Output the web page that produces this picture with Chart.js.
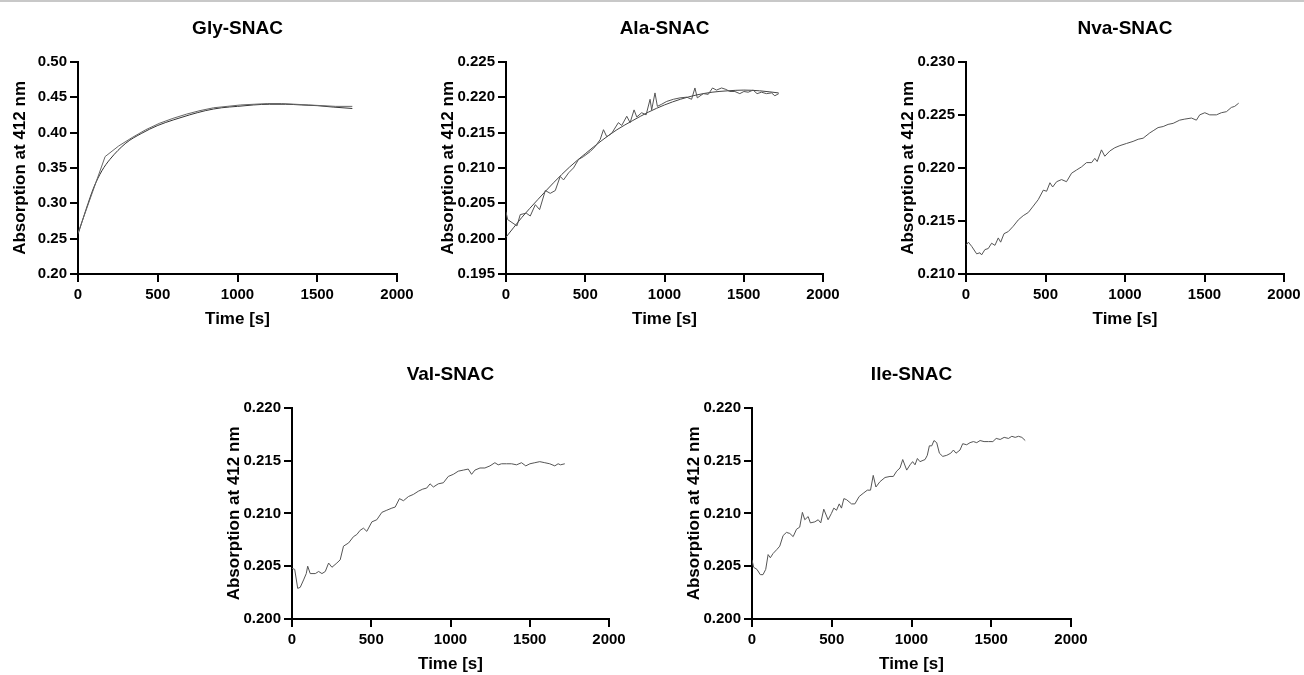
<!DOCTYPE html>
<html>
<head>
<meta charset="utf-8">
<script src="https://cdn.jsdelivr.net/npm/chart.js@4"></script>
<style>
  html, body { margin: 0; padding: 0; background: #fff; }
  body { width: 1304px; height: 675px; position: relative; overflow: hidden; }
  #topbar { position: absolute; left: 0; top: 0; width: 1304px; height: 2px; background: #c8c8c8; }
  canvas { position: absolute; }
</style>
</head>
<body>
<div id="topbar"></div>
<canvas id="gly" width="429" height="334" style="left:-2px;top:0px"></canvas>
<canvas id="ala" width="427" height="334" style="left:426px;top:0px"></canvas>
<canvas id="nva" width="428" height="334" style="left:886px;top:0px"></canvas>
<canvas id="val" width="427" height="333" style="left:212px;top:346px"></canvas>
<canvas id="ile" width="429" height="333" style="left:672px;top:346px"></canvas>
<script>
// x ticks shared by all panels
var timeTicks = [0, 500, 1000, 1500, 2000];

// Gly-SNAC
var glyTime = [0, 170, 255, 340, 425, 510, 595, 680, 765, 850, 935, 1020, 1105, 1190, 1275, 1360, 1445, 1530, 1615, 1720];
var glyData = [0.258, 0.366, 0.381, 0.393, 0.404, 0.413, 0.420, 0.426, 0.431, 0.435, 0.437, 0.439, 0.440, 0.441, 0.441, 0.440, 0.439, 0.438, 0.437, 0.437];
var glyFitTime = [0, 50, 100, 150, 200, 300, 400, 500, 600, 700, 800, 900, 1000, 1100, 1200, 1300, 1400, 1500, 1600, 1720];
var glyFit = [0.256, 0.291, 0.323, 0.346, 0.362, 0.385, 0.399, 0.410, 0.418, 0.425, 0.431, 0.435, 0.437, 0.439, 0.440, 0.440, 0.439, 0.438, 0.436, 0.434];

// Ala-SNAC
var alaTime = [0, 10, 69, 90, 128, 153, 185, 212, 248, 279, 311, 342, 363, 395, 426, 458, 489, 531, 562, 594, 615, 636, 667, 709, 730, 762, 783, 808, 825, 856, 884, 909, 919, 940, 955, 982, 1014, 1056, 1098, 1140, 1171, 1192, 1207, 1245, 1276, 1303, 1328, 1360, 1387, 1412, 1444, 1475, 1501, 1528, 1559, 1584, 1612, 1643, 1675, 1696, 1721];
var alaData = [0.2038, 0.2027, 0.2018, 0.2034, 0.2036, 0.2032, 0.2048, 0.2041, 0.2068, 0.2064, 0.2068, 0.2088, 0.2083, 0.2093, 0.2100, 0.2112, 0.2116, 0.2123, 0.2130, 0.2140, 0.2154, 0.2144, 0.2149, 0.2164, 0.2160, 0.2173, 0.2164, 0.2182, 0.2172, 0.2178, 0.2175, 0.2197, 0.2182, 0.2206, 0.2187, 0.2190, 0.2194, 0.2197, 0.2199, 0.2200, 0.2197, 0.2213, 0.2199, 0.2205, 0.2204, 0.2213, 0.2210, 0.2213, 0.2211, 0.2208, 0.2208, 0.2205, 0.2208, 0.2207, 0.2210, 0.2205, 0.2207, 0.2205, 0.2206, 0.2202, 0.2205];
var alaFitTime = [0, 100, 200, 300, 400, 500, 600, 700, 800, 900, 1000, 1100, 1200, 1300, 1400, 1500, 1600, 1720];
var alaFit = [0.2002, 0.2030, 0.2055, 0.2079, 0.2101, 0.2120, 0.2138, 0.2154, 0.2167, 0.2179, 0.2189, 0.2197, 0.2203, 0.2207, 0.2209, 0.2210, 0.2209, 0.2206];

// Nva-SNAC
var nvaTime = [0, 15, 36, 67, 88, 98, 119, 140, 161, 182, 203, 218, 239, 266, 297, 329, 360, 392, 423, 454, 486, 507, 528, 545, 570, 601, 632, 664, 695, 727, 758, 790, 810, 825, 852, 873, 905, 936, 968, 1009, 1051, 1083, 1114, 1156, 1177, 1208, 1240, 1271, 1303, 1344, 1376, 1418, 1449, 1470, 1502, 1533, 1575, 1606, 1638, 1669, 1690, 1715];
var nvaData = [0.2127, 0.2130, 0.2126, 0.2119, 0.2120, 0.2118, 0.2123, 0.2124, 0.2129, 0.2127, 0.2134, 0.2130, 0.2138, 0.2140, 0.2145, 0.2151, 0.2155, 0.2158, 0.2164, 0.2170, 0.2179, 0.2178, 0.2186, 0.2182, 0.2187, 0.2189, 0.2187, 0.2195, 0.2198, 0.2201, 0.2205, 0.2205, 0.2209, 0.2206, 0.2217, 0.2211, 0.2216, 0.2219, 0.2221, 0.2223, 0.2225, 0.2227, 0.2228, 0.2233, 0.2235, 0.2238, 0.2239, 0.2241, 0.2242, 0.2245, 0.2246, 0.2247, 0.2245, 0.2250, 0.2252, 0.2250, 0.2250, 0.2252, 0.2253, 0.2257, 0.2258, 0.2261];

// Val-SNAC
var valTime = [0, 17, 36, 52, 73, 90, 99, 115, 147, 168, 189, 210, 231, 252, 283, 304, 325, 357, 388, 409, 430, 451, 472, 504, 535, 567, 598, 630, 651, 678, 703, 735, 766, 797, 825, 850, 871, 892, 923, 955, 986, 1018, 1049, 1081, 1112, 1133, 1154, 1186, 1217, 1249, 1280, 1301, 1322, 1354, 1385, 1417, 1448, 1475, 1501, 1532, 1563, 1595, 1626, 1658, 1679, 1694, 1721];
var valData = [0.2048, 0.2047, 0.2029, 0.2030, 0.2037, 0.2043, 0.2050, 0.2043, 0.2043, 0.2045, 0.2043, 0.2045, 0.2053, 0.2049, 0.2053, 0.2056, 0.2069, 0.2072, 0.2078, 0.2080, 0.2084, 0.2086, 0.2083, 0.2092, 0.2094, 0.2101, 0.2103, 0.2105, 0.2106, 0.2114, 0.2112, 0.2116, 0.2118, 0.2121, 0.2123, 0.2124, 0.2128, 0.2125, 0.2128, 0.2129, 0.2135, 0.2137, 0.2140, 0.2141, 0.2142, 0.2137, 0.2141, 0.2143, 0.2143, 0.2145, 0.2148, 0.2146, 0.2147, 0.2147, 0.2147, 0.2146, 0.2148, 0.2145, 0.2147, 0.2148, 0.2149, 0.2148, 0.2147, 0.2145, 0.2147, 0.2146, 0.2147];

// Ile-SNAC
var ileTime = [0, 10, 31, 52, 69, 86, 101, 115, 132, 157, 174, 195, 216, 237, 258, 279, 299, 316, 331, 352, 366, 394, 415, 431, 450, 477, 498, 513, 530, 547, 561, 576, 593, 624, 645, 672, 697, 723, 743, 760, 777, 802, 834, 865, 886, 907, 928, 945, 970, 991, 1007, 1022, 1037, 1053, 1085, 1099, 1112, 1127, 1141, 1158, 1175, 1196, 1221, 1246, 1263, 1279, 1304, 1321, 1346, 1367, 1388, 1409, 1430, 1455, 1483, 1510, 1531, 1556, 1581, 1608, 1629, 1650, 1671, 1692, 1713];
var ileData = [0.2056, 0.2049, 0.2047, 0.2042, 0.2042, 0.2047, 0.2061, 0.2058, 0.2062, 0.2066, 0.2069, 0.2079, 0.2082, 0.2081, 0.2078, 0.2085, 0.2087, 0.2101, 0.2094, 0.2097, 0.2091, 0.2092, 0.2094, 0.2091, 0.2104, 0.2094, 0.2100, 0.2105, 0.2103, 0.2109, 0.2105, 0.2114, 0.2113, 0.2109, 0.2109, 0.2116, 0.2119, 0.2122, 0.2122, 0.2136, 0.2125, 0.2130, 0.2134, 0.2135, 0.2135, 0.2140, 0.2143, 0.2151, 0.2141, 0.2146, 0.2149, 0.2146, 0.2152, 0.2149, 0.2151, 0.2155, 0.2164, 0.2164, 0.2169, 0.2167, 0.2157, 0.2154, 0.2155, 0.2157, 0.2160, 0.2157, 0.2160, 0.2166, 0.2165, 0.2167, 0.2168, 0.2167, 0.2169, 0.2168, 0.2168, 0.2168, 0.2171, 0.2170, 0.2172, 0.2171, 0.2173, 0.2172, 0.2173, 0.2172, 0.2169];

var fontFamily = "Arial, 'Liberation Sans', Helvetica, sans-serif";

function toPoints(xs, ys) {
    return xs.map(function (x, i) { return { x: x, y: ys[i] }; });
}

function makePanel(id, title, series, yMin, yMax, yStep, decimals) {
    var datasets = series.map(function (s) {
        return {
            data: toPoints(s.x, s.y),
            borderColor: s.color,
            borderWidth: 1,
            pointRadius: 0,
            fill: false,
            tension: s.smooth ? 0.4 : 0,
            cubicInterpolationMode: s.smooth ? 'monotone' : 'default'
        };
    });

    return new Chart(document.getElementById(id), {
        type: 'line',
        data: { datasets: datasets },
        options: {
            responsive: false,
            animation: false,
            layout: { padding: { left: 0, right: 30, top: 0, bottom: 0 } },
            plugins: {
                legend: { display: false },
                tooltip: { enabled: false },
                title: {
                    display: true,
                    text: title,
                    fullSize: false,
                    color: '#000',
                    font: { family: fontFamily, size: 19, weight: 'bold', lineHeight: 1.2 },
                    padding: { top: 17, bottom: 22 }
                }
            },
            scales: {
                x: {
                    type: 'linear',
                    min: 0,
                    max: 2000,
                    afterFit: function (scale) { scale.height = 60; },
                    afterBuildTicks: function (scale) {
                        scale.ticks = timeTicks.map(function (v) { return { value: v }; });
                    },
                    border: { color: '#000', width: 2 },
                    grid: { drawOnChartArea: false, drawTicks: true, tickLength: 8, color: '#000', lineWidth: 2 },
                    ticks: {
                        color: '#000',
                        padding: 4,
                        maxRotation: 0,
                        font: { family: fontFamily, size: 15, weight: 'bold' },
                        callback: function (v) { return String(v); }
                    },
                    title: {
                        display: true,
                        text: 'Time [s]',
                        color: '#000',
                        font: { family: fontFamily, size: 17, weight: 'bold', lineHeight: 1.2 },
                        padding: { top: 0, bottom: 4 }
                    }
                },
                y: {
                    min: yMin,
                    max: yMax,
                    afterFit: function (scale) { scale.width = 80; },
                    border: { color: '#000', width: 2 },
                    grid: { drawOnChartArea: false, drawTicks: true, tickLength: 8, color: '#000', lineWidth: 2 },
                    ticks: {
                        stepSize: yStep,
                        color: '#000',
                        padding: 3,
                        font: { family: fontFamily, size: 15, weight: 'bold' },
                        callback: function (v) { return Number(v).toFixed(decimals); }
                    },
                    title: {
                        display: true,
                        text: 'Absorption at 412 nm',
                        color: '#000',
                        font: { family: fontFamily, size: 17, weight: 'bold', lineHeight: 1.2 },
                        padding: { top: 12, bottom: 0 }
                    }
                }
            }
        }
    });
}

makePanel('gly', 'Gly-SNAC', [
    { x: glyTime, y: glyData, color: '#666666', smooth: false },
    { x: glyFitTime, y: glyFit, color: '#333333', smooth: true }
], 0.20, 0.50, 0.05, 2);

makePanel('ala', 'Ala-SNAC', [
    { x: alaTime, y: alaData, color: '#555555', smooth: false },
    { x: alaFitTime, y: alaFit, color: '#444444', smooth: true }
], 0.195, 0.225, 0.005, 3);

makePanel('nva', 'Nva-SNAC', [
    { x: nvaTime, y: nvaData, color: '#555555', smooth: false }
], 0.210, 0.230, 0.005, 3);

makePanel('val', 'Val-SNAC', [
    { x: valTime, y: valData, color: '#555555', smooth: false }
], 0.200, 0.220, 0.005, 3);

makePanel('ile', 'Ile-SNAC', [
    { x: ileTime, y: ileData, color: '#555555', smooth: false }
], 0.200, 0.220, 0.005, 3);
</script>
</body>
</html>
